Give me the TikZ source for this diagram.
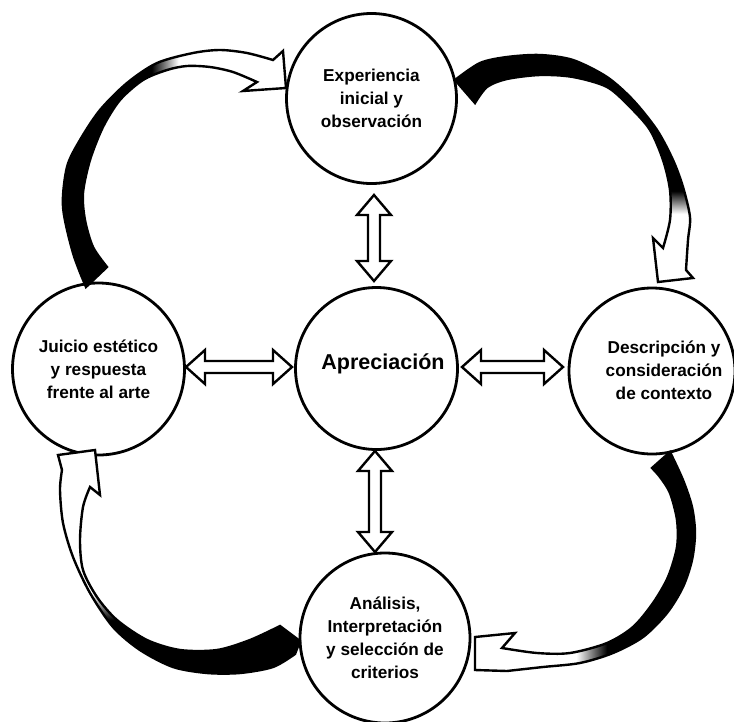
\documentclass[tikz,border=0pt]{standalone}
\usepackage{fontspec}
\setmainfont{Liberation Sans}
\usetikzlibrary{calc}
\pgfdeclarehorizontalshading{shTL}{100bp}{color(0bp)=(black); color(45bp)=(black); color(51bp)=(white); color(100bp)=(white)}
\pgfdeclareverticalshading{shTR}{100bp}{color(0bp)=(white); color(40bp)=(white); color(45bp)=(black); color(100bp)=(black)}
\pgfdeclarehorizontalshading{shBR}{100bp}{color(0bp)=(white); color(48bp)=(white); color(55bp)=(black); color(100bp)=(black)}
\pgfdeclareverticalshading{shBL}{100bp}{color(0bp)=(black); color(37bp)=(black); color(43bp)=(white); color(100bp)=(white)}
\tikzset{
  circ/.style={circle, draw, line width=2.8pt, inner sep=0pt, align=center,
    font=\fontsize{17.2}{23}\selectfont\bfseries},
  lbl/.style={align=center, inner sep=0pt, font=\fontsize{17.2}{23}\selectfont\bfseries},
  dbl/.style={draw, fill=white, line width=2.4pt, line join=miter},
  cbody/.style={draw, line width=2.4pt, line join=miter}
}
\newcommand\dblV[2]{\draw[dbl] let \p1=(#1), \p2=(#2) in
  (\x1,\y1) -- (\x1+17pt,\y1-20pt) -- (\x1+6pt,\y1-20pt) -- (\x1+6pt,\y2+20pt) -- (\x1+17pt,\y2+20pt)
  -- (\x1,\y2) -- (\x1-17pt,\y2+20pt) -- (\x1-6pt,\y2+20pt) -- (\x1-6pt,\y1-20pt) -- (\x1-17pt,\y1-20pt) -- cycle;}
\newcommand\dblH[2]{\draw[dbl] let \p1=(#1), \p2=(#2) in
  (\x1,\y1) -- (\x1+19pt,\y1+17pt) -- (\x1+19pt,\y1+6pt) -- (\x2-19pt,\y1+6pt) -- (\x2-19pt,\y1+17pt)
  -- (\x2,\y1) -- (\x2-19pt,\y1-17pt) -- (\x2-19pt,\y1-6pt) -- (\x1+19pt,\y1-6pt) -- (\x1+19pt,\y1-17pt) -- cycle;}
\begin{document}
\begin{tikzpicture}[x=1pt, y=-1pt]
\useasboundingbox (0,0) rectangle (734,721);
% circles
\node[circ, minimum size=170pt] (exp) at (371.5,98.5) {Experiencia\\inicial y\\observación};
\node[circ, minimum size=172pt] (jui) at (98.5,369) {Juicio estético\\y respuesta\\frente al arte};
\node[circ, minimum size=166pt] (des) at (652,371) {};
\node[lbl] (desT) at (664,370) {Descripción y\\consideración\\de contexto};
\node[circ, minimum size=170pt] (ana) at (385,638) {Análisis,\\Interpretación\\y selección de\\criterios};
\node[circ, minimum size=162pt] (app) at (376.5,368.5) {};
\node[inner sep=0pt, font=\fontsize{21.5}{26}\selectfont\bfseries] (appT) at (383,364) {Apreciación};
% double arrows
\coordinate (u1) at (374,195); \coordinate (u2) at (374,281);
\coordinate (d1) at (375,451); \coordinate (d2) at (375,552);
\coordinate (l1) at (186,367); \coordinate (l2) at (292,367);
\coordinate (r1) at (462,367); \coordinate (r2) at (563,367);
\dblV{u1}{u2}
\dblV{d1}{d2}
\dblH{l1}{l2}
\dblH{r1}{r2}
% curved arrows
\shade[cbody, shading=shTL] plot[smooth] coordinates {(86,287) (73,253) (63,207) (67,167) (80,140) (100,110) (127,83) (157,63) (193,53) (220,50) (247,53) (273,60)}
  -- (283,51) -- (286,88) -- (243,91) -- (257,82)
  -- plot[smooth] coordinates {(257,82) (233,72) (210,67) (187,66) (167,70) (143,80) (120,100) (103,127) (90,160) (83,193) (85,220) (93,247) (107,267)} -- cycle;
\shade[cbody, shading=shTR] plot[smooth] coordinates {(455,80) (480,63) (507,57) (540,55) (573,60) (607,77) (633,100) (657,130) (673,160) (683,187) (690,217) (688,240) (686,270)}
  -- (693,278) -- (658,282) -- (653,238) -- (663,248)
  -- plot[smooth] coordinates {(663,248) (670,220) (670,190) (663,160) (650,130) (630,107) (607,87) (573,77) (540,75) (507,79) (487,87) (475,103)} -- cycle;
\shade[cbody, shading=shBR] plot[smooth] coordinates {(670,452) (683,480) (692,507) (695,533) (692,560) (683,587) (667,613) (643,637) (613,653) (580,663) (543,667) (507,671)}
  -- (475,670) -- (475,637) -- (515,633) -- (502,648)
  -- plot[smooth] coordinates {(502,648) (537,653) (570,653) (607,643) (633,627) (653,603) (668,577) (677,547) (677,520) (670,493) (660,477) (652,468)} -- cycle;
\shade[cbody, shading=shBL] plot[smooth] coordinates {(295,654) (273,667) (240,673) (207,673) (173,667) (140,650) (113,627) (90,593) (73,557) (63,523) (60,490) (62,470)}
  -- (58,455) -- (95,450) -- (100,495) -- (90,487)
  -- plot[smooth] coordinates {(90,487) (83,507) (80,540) (83,570) (97,597) (117,620) (147,640) (180,650) (217,650) (250,640) (280,626)} -- (300,641) -- cycle;
\end{tikzpicture}
\end{document}
